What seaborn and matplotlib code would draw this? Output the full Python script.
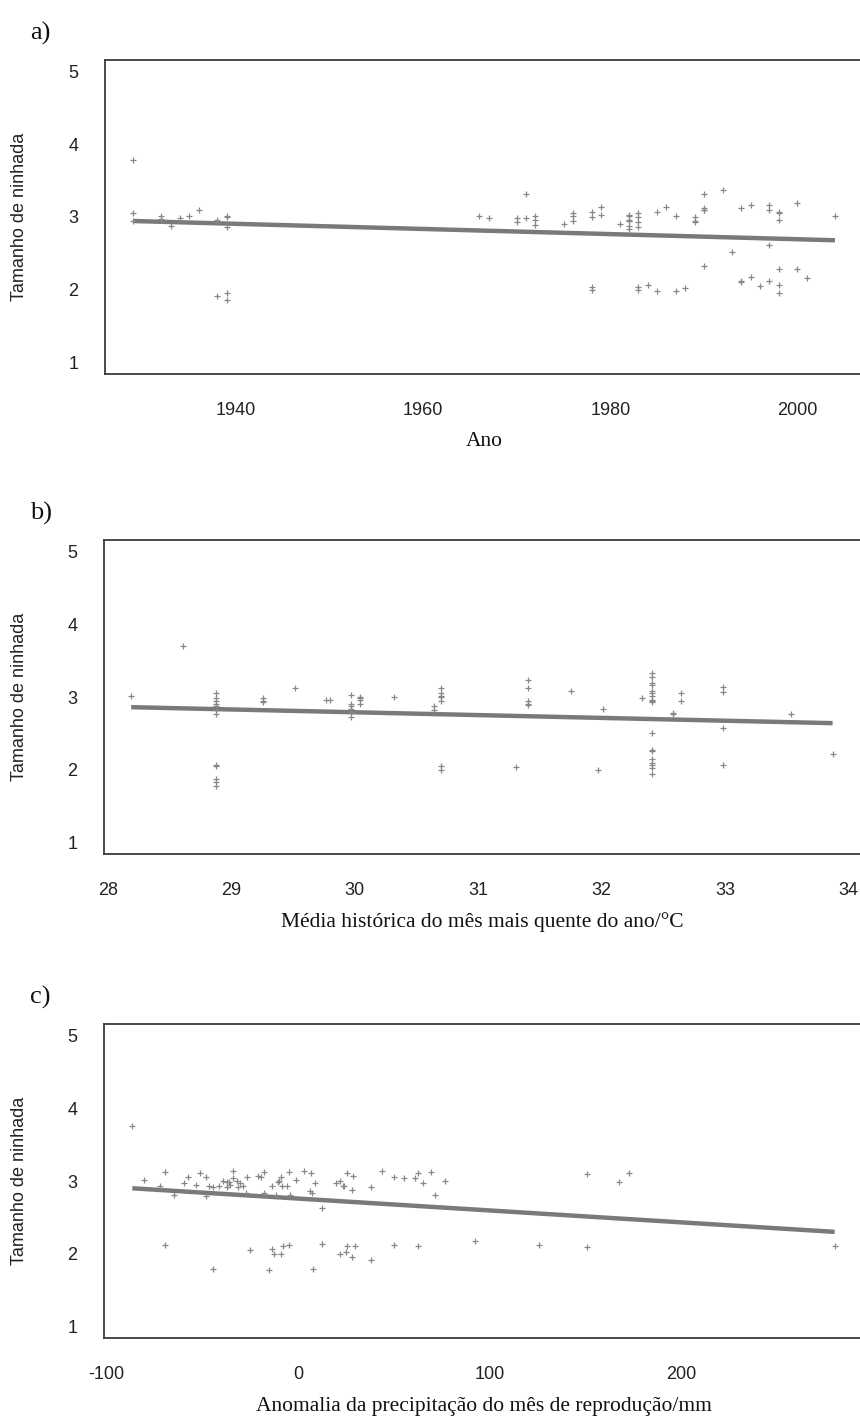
import matplotlib
matplotlib.use("Agg")
import matplotlib.pyplot as plt
import seaborn as sns
import pandas as pd

sns.set_style("white")
plt.rcParams['font.family'] = ['Liberation Sans', 'DejaVu Sans']

# ---------------- data ----------------
# a) year vs litter size
ano_a = [1929, 1929, 1929, 1932, 1932, 1933, 1934, 1935, 1936, 1938, 1938,
         1939, 1939, 1939, 1939, 1939,
         1966, 1967, 1970, 1970, 1971, 1971, 1972, 1972, 1972, 1975,
         1976, 1976, 1976, 1978, 1978, 1978, 1978, 1979, 1979, 1981,
         1982, 1982, 1982, 1982, 1982, 1982, 1983, 1983, 1983, 1983, 1983, 1983,
         1984, 1985, 1985, 1986, 1987, 1987, 1988,
         1989, 1989, 1989, 1990, 1990, 1990, 1990, 1990, 1992, 1993,
         1994, 1994, 1994, 1995, 1995, 1996, 1997, 1997, 1997, 1997,
         1998, 1998, 1998, 1998, 1998, 1998, 2000, 2000, 2001, 2004]
ninhada_a = [3.79, 3.05, 2.95, 3.02, 2.97, 2.88, 2.98, 3.02, 3.09, 2.96, 1.91,
             3.01, 3.00, 2.86, 1.95, 1.86,
             3.02, 2.98, 2.98, 2.93, 3.32, 2.98, 3.02, 2.96, 2.89, 2.91,
             3.05, 3.02, 2.94, 3.07, 3.00, 2.04, 2.00, 3.14, 3.03, 2.91,
             3.03, 3.01, 2.96, 2.94, 2.88, 2.83, 3.05, 3.00, 2.93, 2.86, 2.04, 2.00,
             2.07, 3.07, 1.98, 3.14, 3.02, 1.98, 2.03,
             3.00, 2.94, 2.93, 3.32, 3.12, 3.10, 3.09, 2.32, 3.37, 2.52,
             3.12, 2.12, 2.10, 3.17, 2.17, 2.05, 3.17, 3.10, 2.61, 2.12,
             3.07, 3.05, 2.96, 2.28, 2.07, 1.96, 3.19, 2.28, 2.16, 3.02]
ajuste_x_a = [1929, 2004]
ajuste_y_a = [2.945, 2.68]

# b) historical mean of the warmest month vs litter size
temp_b = [28.19, 28.61,
          28.88, 28.88, 28.88, 28.88, 28.88, 28.88, 28.88,
          28.88, 28.88, 28.88, 28.88, 28.88,
          29.26, 29.26, 29.26, 29.52, 29.77, 29.80,
          29.97, 29.97, 29.97, 29.97, 29.97, 29.97,
          30.04, 30.04, 30.04, 30.04, 30.32, 30.64, 30.64,
          30.70, 30.70, 30.70, 30.70, 30.70, 30.70, 30.70,
          31.31, 31.40, 31.40, 31.40, 31.40, 31.40, 31.75, 31.97, 32.01, 32.33,
          32.41, 32.41, 32.41, 32.41, 32.41, 32.41, 32.41, 32.41, 32.41, 32.41,
          32.41, 32.41, 32.41, 32.41, 32.41, 32.41, 32.41, 32.41,
          32.58, 32.58, 32.64, 32.64, 32.98, 32.98, 32.98, 32.98, 33.53, 33.87]
ninhada_b = [3.01, 3.70,
             3.05, 2.98, 2.94, 2.91, 2.88, 2.82, 2.77,
             2.06, 2.05, 1.87, 1.83, 1.78,
             2.98, 2.94, 2.93, 3.12, 2.96, 2.96,
             3.03, 2.91, 2.88, 2.84, 2.80, 2.73,
             3.00, 2.98, 2.96, 2.91, 3.00, 2.88, 2.82,
             3.12, 3.05, 3.01, 3.00, 2.94, 2.05, 1.99,
             2.04, 3.24, 3.12, 2.94, 2.91, 2.89, 3.08, 1.99, 2.84, 2.98,
             3.33, 3.28, 3.19, 3.16, 3.08, 3.05, 3.01, 2.96, 2.94, 2.93,
             2.50, 2.27, 2.26, 2.15, 2.09, 2.06, 2.03, 1.94,
             2.78, 2.77, 3.05, 2.94, 3.14, 3.07, 2.57, 2.06, 2.77, 2.22]
ajuste_x_b = [28.19, 33.87]
ajuste_y_b = [2.86, 2.64]

# c) precipitation anomaly of the breeding month vs litter size
anom_c = [-86.6, -80.5, -71.9, -69.3, -69.3, -64.6, -59.4, -57.3, -53.3, -51.4,
          -47.9, -47.9, -46.7, -44.6, -44.6, -41.3, -39.4, -37.3, -37.3, -36.1,
          -35.4, -34.0, -34.0, -32.0, -31.4, -30.6, -28.7, -27.3, -26.6, -25.2,
          -21.2, -19.3, -17.9, -17.9, -15.3, -13.9, -13.9, -12.5, -11.8, -10.6,
          -9.9, -9.2, -9.2, -8.5, -8.0, -5.9, -4.7, -4.7, -4.0, -1.2,
          2.8, 6.1, 7.3, 6.8, 8.0, 8.7, 12.7, 12.7, 20.0, 21.9,
          21.9, 23.4, 24.1, 24.8, 25.3, 25.3, 28.1, 28.1, 28.8, 29.5,
          38.0, 38.0, 43.9, 49.9, 49.9, 55.3, 61.2, 62.6, 62.6, 65.2,
          69.2, 71.3, 76.7, 92.5, 125.6, 150.9, 150.9, 167.6, 173.0, 280.2]
ninhada_c = [3.76, 3.02, 2.93, 3.12, 2.12, 2.81, 2.97, 3.06, 2.95, 3.11,
             3.06, 2.79, 2.93, 2.92, 1.79, 2.93, 3.00, 2.99, 2.92, 2.99,
             2.94, 3.14, 3.04, 3.00, 2.92, 2.97, 2.93, 2.84, 3.06, 2.05,
             3.07, 3.06, 3.12, 2.83, 1.77, 2.93, 2.07, 2.00, 2.81, 2.99,
             3.00, 3.06, 2.00, 2.93, 2.11, 2.93, 3.12, 2.12, 2.81, 3.02,
             3.14, 2.86, 2.83, 3.11, 1.79, 2.97, 2.63, 2.14, 2.97, 3.00,
             2.00, 2.93, 2.93, 2.03, 3.11, 2.10, 2.88, 1.95, 3.07, 2.10,
             2.92, 1.91, 3.14, 3.06, 2.12, 3.04, 3.04, 3.11, 2.10, 2.97,
             3.12, 2.81, 3.00, 2.18, 2.12, 3.09, 2.09, 2.99, 3.11, 2.11]
ajuste_x_c = [-86.6, 280.2]
ajuste_y_c = [2.90, 2.30]

y_ticks = [1, 2, 3, 4, 5]
x_ticks_a = [1940, 1960, 1980, 2000]
x_ticks_b = [28, 29, 30, 31, 32, 33, 34]
x_ticks_c = [-100, 0, 100, 200]

ylabel = "Tamanho de ninhada"
xlabels = ["Ano",
           "Média histórica do mês mais quente do ano/°C",
           "Anomalia da precipitação do mês de reprodução/mm"]
panel_tags = ["a)", "b)", "c)"]

# ---------------- figure ----------------
W, H = 860, 1425
fig = plt.figure(figsize=(W / 100, H / 100), dpi=100)

panels = [
    dict(x=ano_a, y=ninhada_a, fx=ajuste_x_a, fy=ajuste_y_a, xlim=(1926, 2007),
         ticks=x_ticks_a, left=105, right=863, top=60),
    dict(x=temp_b, y=ninhada_b, fx=ajuste_x_b, fy=ajuste_y_b, xlim=(27.97, 34.10),
         ticks=x_ticks_b, left=104, right=861, top=540),
    dict(x=anom_c, y=ninhada_c, fx=ajuste_x_c, fy=ajuste_y_c, xlim=(-101.4, 295.0),
         ticks=x_ticks_c, left=104, right=863, top=1024),
]
ph = 314
grey = "#7a7a7a"
frame = "#3c3c3c"
serif = ["Liberation Serif", "DejaVu Serif"]

for i, p in enumerate(panels):
    wpx = p["right"] - p["left"]
    ax = fig.add_axes([p["left"] / W, 1 - (p["top"] + ph) / H, wpx / W, ph / H])
    df = pd.DataFrame({"x": p["x"], "y": p["y"]})
    fit = pd.DataFrame({"x": p["fx"], "y": p["fy"]})
    sns.lineplot(data=fit, x="x", y="y", ax=ax, color=grey, linewidth=3.2,
                 solid_capstyle="butt", zorder=2)
    sns.scatterplot(data=df, x="x", y="y", ax=ax, marker="+", s=16,
                    color="#888888", linewidth=0.9, zorder=3)
    ax.set_xlim(*p["xlim"])
    ax.set_ylim(0.84, 5.16)
    ax.set_xticks(p["ticks"])
    ax.set_yticks(y_ticks)
    ax.set_xticklabels([str(t) for t in p["ticks"]])
    ax.set_yticklabels([str(t) for t in y_ticks])
    for s in ax.spines.values():
        s.set_color(frame)
        s.set_linewidth(1.3)
    ax.tick_params(axis="both", which="major", direction="out", length=8,
                   width=1.1, color=frame, labelsize=13, labelcolor="#222222")
    ax.tick_params(axis="x", pad=12)
    ax.tick_params(axis="y", pad=11)
    ax.set_ylabel(ylabel, fontsize=13, color="#222222")
    ax.yaxis.label.set_verticalalignment("center")
    ax.yaxis.set_label_coords((20 - p["left"]) / wpx, 0.5)
    ax.set_xlabel(xlabels[i], fontsize=15.5, family=serif, color="#111111")
    ax.xaxis.set_label_coords(0.5, -68 / ph)
    ax.xaxis.label.set_verticalalignment("center")
    fig.text(30 / W, 1 - (p["top"] - 27) / H, panel_tags[i], fontsize=19,
             family=serif, ha="left", va="center", color="#111111")

fig.savefig("out.png", dpi=100)
